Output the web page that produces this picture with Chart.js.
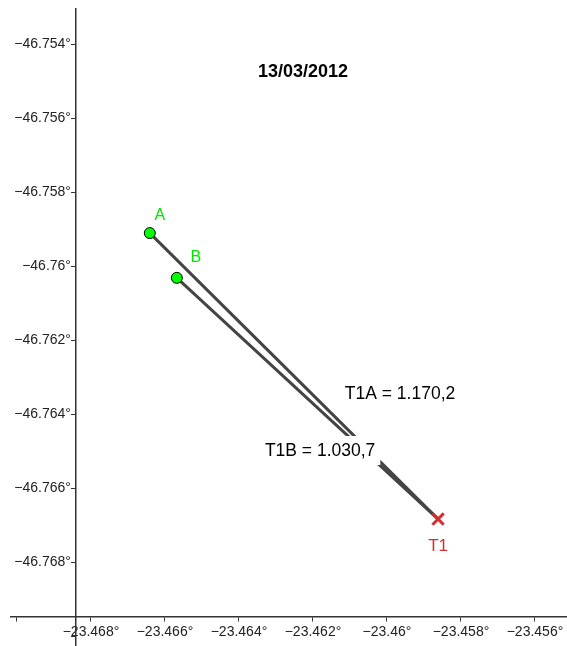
<!DOCTYPE html>
<html>
<head>
<meta charset="utf-8">
<script src="https://cdn.jsdelivr.net/npm/chart.js@4.4.1/dist/chart.umd.min.js"></script>
<style>
  html, body { margin: 0; padding: 0; background: #fff; }
  #wrap { width: 567px; height: 646px; position: relative; }
</style>
</head>
<body>
<div id="wrap"><canvas id="geoChart"></canvas></div>
<script>
// points
const pointNames = ['A', 'B', 'T1'];
const xValues = [-23.46641, -23.46568, -23.45862];
const yValues = [-46.75911, -46.76032, -46.76684];
const distanceLabels = ['T1A = 1.170,2', 'T1B = 1.030,7'];
const chartTitle = '13/03/2012';

const FONT = '"Liberation Sans", Arial, sans-serif';

function degLabel(v) {
  const s = Number(v.toFixed(3)).toString();
  return s.replace('-', '\u2212') + '\u00b0';
}

const pt = i => ({ x: xValues[i], y: yValues[i] });

// axes sit inside the plot, so they must not take any layout room
function noRoom(s) {
  if (s.isHorizontal()) s.height = 0; else s.width = 0;
  s.paddingLeft = s.paddingRight = s.paddingTop = s.paddingBottom = 0;
}

// text overlays: title, point names, distance labels
const labelPlugin = {
  id: 'labels',
  afterDatasetsDraw(chart) {
    const { ctx, scales: { x, y } } = chart;
    ctx.save();
    ctx.textBaseline = 'middle';

    // distance labels (T1B sits on a white box over the lines)
    ctx.font = '17.5px ' + FONT;
    ctx.textAlign = 'left';
    const ax = x.getPixelForValue(-23.46114), ay = y.getPixelForValue(-46.76346);
    ctx.fillStyle = '#000';
    ctx.fillText(distanceLabels[0], ax, ay);
    const bx = x.getPixelForValue(-23.46330), by = y.getPixelForValue(-46.76500);
    const w = ctx.measureText(distanceLabels[1]).width;
    ctx.fillStyle = '#fff';
    ctx.fillRect(bx - 3, by - 15, w + 8, 29);
    ctx.fillStyle = '#000';
    ctx.fillText(distanceLabels[1], bx, by);

    // point names
    ctx.textAlign = 'center';
    ctx.font = '16px ' + FONT;
    ctx.fillStyle = '#00e600';
    ctx.fillText(pointNames[0], x.getPixelForValue(xValues[0]) + 10, y.getPixelForValue(yValues[0]) - 17);
    ctx.fillText(pointNames[1], x.getPixelForValue(xValues[1]) + 19, y.getPixelForValue(yValues[1]) - 20);
    ctx.font = '17px ' + FONT;
    ctx.fillStyle = '#d32f2f';
    ctx.fillText(pointNames[2], x.getPixelForValue(xValues[2]), y.getPixelForValue(yValues[2]) + 27);

    // title
    ctx.font = 'bold 18px ' + FONT;
    ctx.fillStyle = '#000';
    ctx.fillText(chartTitle, 303, 72);
    ctx.restore();
  }
};

new Chart(document.getElementById('geoChart'), {
  type: 'scatter',
  data: {
    datasets: [
      {
        label: 'T1',
        data: [pt(2)],
        pointStyle: 'crossRot',
        pointRadius: 8,
        borderColor: '#d32f2f',
        borderWidth: 3,
        order: 0
      },
      {
        label: 'A, B',
        data: [pt(0), pt(1)],
        pointRadius: 5.5,
        backgroundColor: '#00ff00',
        borderColor: '#000',
        borderWidth: 1,
        order: 1
      },
      {
        type: 'line',
        label: 'T1A',
        data: [pt(0), pt(2)],
        borderColor: '#444',
        borderWidth: 3,
        pointRadius: 0,
        order: 3
      },
      {
        type: 'line',
        label: 'T1B',
        data: [pt(1), pt(2)],
        borderColor: '#444',
        borderWidth: 3,
        pointRadius: 0,
        order: 3
      }
    ]
  },
  options: {
    responsive: true,
    maintainAspectRatio: false,
    animation: false,
    layout: { autoPadding: false, padding: { top: 9, left: 11, right: 0, bottom: 0 } },
    plugins: { legend: { display: false }, tooltip: { enabled: false } },
    scales: {
      x: {
        type: 'linear',
        min: -23.470162,
        max: -23.455135,
        position: { y: -46.769486 },
        afterFit: noRoom,
        border: { color: '#333', width: 1.5 },
        grid: { drawOnChartArea: false, tickLength: 4, color: '#333' },
        ticks: {
          stepSize: 0.002,
          includeBounds: false,
          padding: 3,
          color: '#222',
          font: { family: FONT, size: 14 },
          maxRotation: 0,
          autoSkip: false,
          callback: v => Math.abs(v + 23.47) < 1e-6 ? '' : degLabel(v)
        }
      },
      y: {
        type: 'linear',
        min: -46.77027,
        max: -46.753054,
        position: { x: -23.468405 },
        afterFit: noRoom,
        border: { color: '#333', width: 1.5 },
        grid: { drawOnChartArea: false, tickLength: 4, color: '#333' },
        ticks: {
          stepSize: 0.002,
          includeBounds: false,
          color: '#222',
          font: { family: FONT, size: 14 },
          autoSkip: false,
          // centre-placed axis ignores padding, so keep a small gap with a trailing space
          callback: v => Math.abs(v + 46.77) < 1e-6 ? '' : degLabel(v) + ' \u200a'
        }
      }
    }
  },
  plugins: [labelPlugin]
});
</script>
</body>
</html>
